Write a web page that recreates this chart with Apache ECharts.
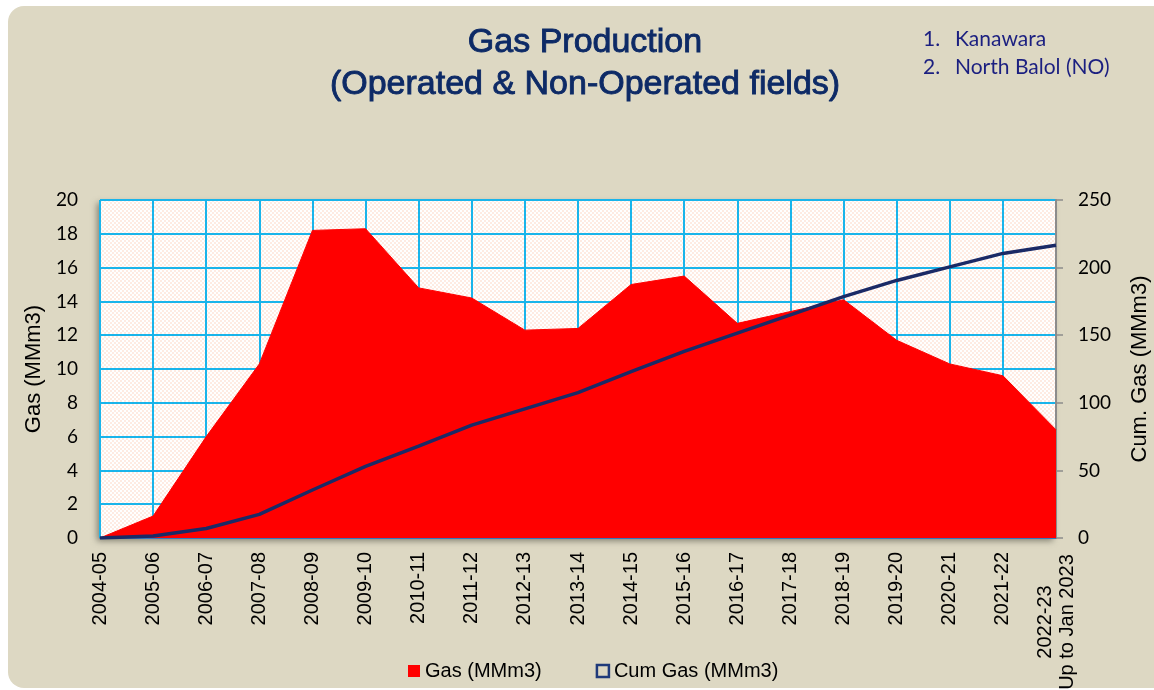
<!DOCTYPE html>
<html>
<head>
<meta charset="utf-8">
<script src="https://cdn.jsdelivr.net/npm/echarts@6/dist/echarts.min.js"></script>
<style>
    html, body { margin: 0; padding: 0; background: #ffffff; }
    #panel { position: absolute; left: 8px; top: 6px; width: 1170px; height: 682px;
             background: #ddd8c3; border-radius: 16px; }
    #main { position: absolute; left: 0; top: 0; width: 1154px; height: 690px; }
</style>
</head>
<body>
<div id="panel"></div>
<div id="main"></div>
<script>
var categories = ['2004-05', '2005-06', '2006-07', '2007-08', '2008-09', '2009-10', '2010-11',
    '2011-12', '2012-13', '2013-14', '2014-15', '2015-16', '2016-17', '2017-18', '2018-19',
    '2019-20', '2020-21', '2021-22', '2022-23'];
var lastNote = 'Up to Jan 2023';
// yearly gas, MMm3 (left axis)
var gas = [0, 1.3, 6.0, 10.3, 18.2, 18.3, 14.8, 14.2, 12.3, 12.4, 15.0, 15.5, 12.7, 13.4, 14.1,
    11.7, 10.3, 9.6, 6.4];
// cumulative gas, MMm3 (right axis)
var cumGas = [0, 1.5, 7.0, 17.5, 35.5, 53, 68, 83.5, 95.5, 107.5, 123, 138, 151.5, 165, 178.5,
    190.5, 200.5, 210.5, 216.5];
var leftTicks = {min: 0, max: 20, interval: 2};
var rightTicks = {min: 0, max: 250, interval: 50};
var fields = ['Kanawara', 'North Balol (NO)'];

// checkered peach pattern of the plot area
function makePattern() {
    var c = document.createElement('canvas');
    c.width = 4;
    c.height = 4;
    var ctx = c.getContext('2d');
    ctx.fillStyle = '#ffffff';
    ctx.fillRect(0, 0, 4, 4);
    ctx.fillStyle = '#feebe2';
    ctx.fillRect(0, 0, 2, 2);
    ctx.fillRect(2, 2, 2, 2);
    return c;
}

var chart = echarts.init(document.getElementById('main'));

var fieldText = fields.map(function (f, i) {
    return '{n|' + (i + 1) + '.}{t|' + f + '}';
}).join('\n');

var option = {
    backgroundColor: 'transparent',
    title: [{
        text: 'Gas Production\n(Operated & Non-Operated fields)',
        left: 580,
        top: 17,
        textAlign: 'center',
        textStyle: {
            fontFamily: 'Liberation Sans',
            fontSize: 34,
            fontWeight: 'normal',
            color: '#0d2a66',
            textBorderColor: '#0d2a66',
            textBorderWidth: 0.9,
            lineHeight: 42
        }
    }, {
        text: fieldText,
        left: 918,
        top: 20,
        textStyle: {
            fontWeight: 'normal',
            rich: {
                n: {width: 32, fontFamily: 'Lato', fontSize: 21, fontWeight: 'normal',
                    color: '#1b1f80', lineHeight: 28},
                t: {fontFamily: 'Lato', fontSize: 21, fontWeight: 'normal',
                    color: '#1b1f80', lineHeight: 28}
            }
        }
    }],
    legend: {
        left: 403,
        top: 656,
        itemWidth: 12,
        itemHeight: 12,
        itemGap: 54,
        textStyle: {fontFamily: 'Liberation Sans', fontSize: 20, color: '#000'},
        data: [
            {name: 'Gas (MMm3)', icon: 'rect', itemStyle: {color: '#ff0000'}},
            {name: 'Cum Gas (MMm3)', icon: 'rect',
                itemStyle: {color: '#ddd8c3', borderColor: '#1f3a7a', borderWidth: 2.5}}
        ]
    },
    grid: {
        left: 100,
        right: 98,
        top: 200,
        bottom: 152,
        outerBoundsMode: 'none',
        containLabel: false,
        show: true,
        borderWidth: 0,
        backgroundColor: {image: makePattern(), repeat: 'repeat'},
        shadowColor: 'rgba(60,60,50,0.55)',
        shadowBlur: 6,
        shadowOffsetX: -3,
        shadowOffsetY: 3
    },
    xAxis: {
        type: 'category',
        data: categories,
        boundaryGap: false,
        axisLine: {show: true, lineStyle: {color: '#3d64b0', width: 1.5}},
        axisTick: {show: false},
        splitLine: {show: true, lineStyle: {color: '#1ab4ea', width: 2}},
        axisLabel: {
            rotate: 90,
            margin: 14,
            interval: 0,
            fontFamily: 'Liberation Sans',
            fontSize: 20,
            color: '#000',
            formatter: function (v, i) {
                if (i === categories.length - 1) {
                    return '{a|' + v + '}\n{a|' + lastNote + '}';
                }
                return v;
            },
            rich: {
                a: {width: 140, align: 'center', fontFamily: 'Liberation Sans', fontSize: 20,
                    color: '#000', lineHeight: 22}
            }
        }
    },
    yAxis: [{
        type: 'value',
        min: leftTicks.min,
        max: leftTicks.max,
        interval: leftTicks.interval,
        name: 'Gas (MMm3)',
        nameLocation: 'middle',
        nameGap: 55,
        nameRotate: 90,
        nameTextStyle: {fontFamily: 'Liberation Sans', fontSize: 22, color: '#000'},
        axisLine: {show: false},
        axisTick: {show: false},
        splitLine: {show: true, lineStyle: {color: '#1ab4ea', width: 2}},
        axisLabel: {margin: 22, fontFamily: 'Lato', fontSize: 19, color: '#000'}
    }, {
        type: 'value',
        position: 'right',
        min: rightTicks.min,
        max: rightTicks.max,
        interval: rightTicks.interval,
        name: 'Cum. Gas (MMm3)',
        nameLocation: 'middle',
        nameGap: 73,
        nameRotate: 90,
        nameTextStyle: {fontFamily: 'Liberation Sans', fontSize: 22, color: '#000'},
        axisLine: {show: true, lineStyle: {color: '#8c8c8c', width: 2}},
        axisTick: {show: true, length: 7, lineStyle: {color: '#8c8c8c', width: 1.5}},
        splitLine: {show: false},
        axisLabel: {margin: 22, fontFamily: 'Lato', fontSize: 19, color: '#000'}
    }],
    series: [{
        name: 'Gas (MMm3)',
        type: 'line',
        yAxisIndex: 0,
        data: gas,
        showSymbol: false,
        symbol: 'none',
        lineStyle: {color: '#ff0000', width: 1},
        itemStyle: {color: '#ff0000'},
        areaStyle: {color: '#ff0000', opacity: 1},
        animation: false
    }, {
        name: 'Cum Gas (MMm3)',
        type: 'line',
        yAxisIndex: 1,
        data: cumGas,
        showSymbol: false,
        symbol: 'none',
        lineStyle: {color: '#1b2a66', width: 3.5},
        itemStyle: {color: '#1b2a66'},
        animation: false
    }]
};

chart.setOption(option);
</script>
</body>
</html>
